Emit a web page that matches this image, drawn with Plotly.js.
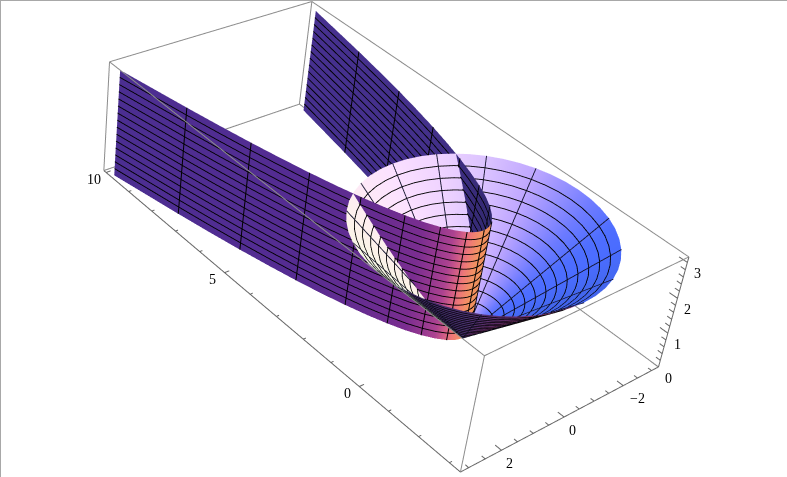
<!DOCTYPE html>
<html><head><meta charset="utf-8"><script src="https://cdn.plot.ly/plotly-3.0.1.min.js"></script>
<style>html,body{margin:0;padding:0;background:#fff;overflow:hidden}
#w{position:absolute;left:0;top:0;width:787px;height:477px;overflow:hidden;background:#fff}
#g{position:absolute;left:-122px;top:-553px;width:1000px;height:1528px}
#f{position:absolute;left:0;top:0;width:787px;height:477px;box-sizing:border-box;border-top:1px solid #a8a8a8;border-left:1px solid #a8a8a8;pointer-events:none}</style></head>
<body><div id="w"><div id="g"></div><div id="f"></div></div>
<script>
var xRange=[-3.355,10.108],yRange=[-3.253,3.253],zRange=[0,3.157];
var boxX=[-3.35,10.102],boxY=[-3.248,3.248],boxZ=[0.004,3.152];
var wallY=[3.142,2.945,2.749,2.553,2.356,2.160,1.963,1.767,1.571,1.374,1.178,0.982,0.785,0.589,0.393,0.294,0.196,0.098,0,-0.098,-0.196,-0.294,-0.393,-0.589,-0.785,-0.982,-1.178,-1.374,-1.571,-1.767,-1.963,-2.160,-2.356,-2.553,-2.749,-2.945,-3.142];
var wallX=[9.79,8.67,7.56,6.52,5.55,4.67,3.85,3.12,2.47,1.89,1.39,0.96,0.62,0.35,0.154,0.086,0.038,0.010,0,0.010,0.038,0.086,0.154,0.35,0.62,0.96,1.39,1.89,2.47,3.12,3.85,4.67,5.55,6.52,7.56,8.67,9.79];
var wallMeshY=[2.749,2.356,1.963,1.571,1.178,0.785,0.393,0,-0.393,-0.785,-1.178,-1.571,-1.963,-2.356,-2.749];
var levelsZ=[0,0.203,0.407,0.61,0.813,1.017,1.22,1.423,1.627,1.83,2.033,2.237,2.44,2.643,2.847,3.05];
var coneR=[0,0.209,0.419,0.628,0.838,1.047,1.257,1.466,1.676,1.885,2.094,2.304,2.513,2.723,2.932,3.142];
var wallKnotY=[-3.142,-2,-1,-0.36,-0.3,-0.1,0,0.15,0.3,0.45,0.6,1,1.5,2,3.142];
var wallKnotC=['#46308f','#43308a','#352a74','#2e2a6e','#f09058','#f09060','#f49560','#f08a6a','#ee7878','#d05c88','#ac4290','#7a2d90','#642c90','#552c92','#4b2e91'];
var coneDeg=[-180,-172.5,-165,-157.5,-150,-142.5,-135,-127.5,-120,-112.5,-105,-97.5,-90,-82.5,-75,-67.5,-60,-52.5,-45,-37.5,-30,-22.5,-15,-7.5,0,7.5,15,22.5,30,37.5,45,52.5,60,67.5,75,82.5,90,97.5,105,112.5,120,127.5,135,142.5,150,157.5,165,172.5,180];
var coneMeshDeg=[-157.5,-135,-112.5,-67.5,-45,-22.5,0,22.5,45,67.5,90,112.5,135,157.5,180];
var coneKnotDeg=[-180,-157,-135,-120,-100,-80,-67,-45,-22,0,20,45,60,75,90,97,105,130,150,165,175,180];
var coneKnotC=['#4060e8','#4468f0','#4a6cff','#4e6eff','#6f7cff','#a096ff','#c0a8ff','#dcc4ff','#f0d4ff','#fbe0ff','#fde8f8','#fdf0ec','#fbf4e8','#f4f6e4','#e4f4e0','#c8e8d8','#3a2860','#4a3070','#6a3070','#a04070','#a04070','#4060e8'];
var xMinor=[-3,-2,-1,0,1,2,3,4,5,6,7,8,9,10];
var xMajor=[0,5,10];
var yMinor=[-3,-2.5,-2,-1.5,-1,-0.5,0,0.5,1,1.5,2,2.5,3];
var yMajor=[-2,0,2];
var zMinor=[0,0.2,0.4,0.6,0.8,1,1.2,1.4,1.6,1.8,2,2.2,2.4,2.6,2.8,3];
var zMajor=[0,1,2,3];
var xLabels=['0','5','10'];
var yLabels=['\u22122','0','2'];
var zLabels=['0','1','2','3'];
function scale(kn,cs){var a=kn[0],b=kn[kn.length-1];return kn.map(function(k,i){return [(k-a)/(b-a),cs[i]];});}
var flat={ambient:1,diffuse:0,specular:0,roughness:1,fresnel:0};
var wx=[],wy=[],wz=[],ws=[];
levelsZ.forEach(function(z){wx.push(wallX.slice());wy.push(wallY.slice());wz.push(wallY.map(function(){return z;}));ws.push(wallY.slice());});
var cx=[],cy=[],cz=[],cs=[];
function cosd(d){return Math.cos(d*Math.PI/180);} function sind(d){return Math.sin(d*Math.PI/180);}
coneR.forEach(function(r,k){
 cx.push(coneDeg.map(function(d){return r*cosd(d);}));
 cy.push(coneDeg.map(function(d){return r*sind(d);}));
 cz.push(coneDeg.map(function(){return levelsZ[k];}));
 cs.push(coneDeg.slice());
});
var rimR=coneR[coneR.length-1],rimZ=levelsZ[levelsZ.length-1];
// small shift toward the camera so the mesh lines stay above their own surface
var lift=[-0.02,0.02,0.02];
function lineTrace(p,c,w){return {type:'scatter3d',mode:'lines',x:p.x,y:p.y,z:p.z,line:{color:c,width:w},hoverinfo:'skip',showlegend:false};}
function lifted(X,Y,Z,c,w){return lineTrace({x:X.map(function(v){return v+lift[0];}),y:Y.map(function(v){return v+lift[1];}),z:Z.map(function(v){return v+lift[2];})},c,w);}
var traces=[
 {type:'surface',x:wx,y:wy,z:wz,surfacecolor:ws,cmin:-3.142,cmax:3.142,colorscale:scale(wallKnotY,wallKnotC),showscale:false,lighting:flat,hoverinfo:'skip'},
 {type:'surface',x:cx,y:cy,z:cz,surfacecolor:cs,cmin:-180,cmax:180,colorscale:scale(coneKnotDeg,coneKnotC),showscale:false,lighting:flat,hoverinfo:'skip'}
];
levelsZ.forEach(function(z,k){ if(k==0||k==levelsZ.length-1)return;
 traces.push(lifted(wallX,wallY,wallY.map(function(){return z;}),'#000',1.8));
 traces.push(lifted(cx[k],cy[k],cz[k],'#000',1.8));
});
wallMeshY.forEach(function(y){var i=wallY.indexOf(y);traces.push(lifted([wallX[i],wallX[i]],[y,y],[0,rimZ],'#000',2));});
coneMeshDeg.forEach(function(d){traces.push(lifted([0,rimR*cosd(d)],[0,rimR*sind(d)],[0,rimZ],'#14142e',1.8));});
var xlo=boxX[0],xhi=boxX[1],ylo=boxY[0],yhi=boxY[1],zlo=boxZ[0],zhi=boxZ[1];
function seg(e){return {x:[e[0],e[3]],y:[e[1],e[4]],z:[e[2],e[5]]};}
var boxEdges=[[xlo,yhi,zhi,xhi,yhi,zhi],[xlo,ylo,zhi,xhi,ylo,zhi],[xlo,ylo,zhi,xlo,yhi,zhi],[xhi,yhi,zhi,xhi,ylo,zhi],[xhi,yhi,zlo,xhi,ylo,zlo],[xlo,yhi,zlo,xlo,yhi,zhi],[xhi,yhi,zlo,xhi,yhi,zhi],[xhi,ylo,zlo,xhi,ylo,zhi],[xhi,ylo,zlo,xlo,ylo,zlo]];
boxEdges.forEach(function(e){traces.push(lineTrace(seg(e),'#8c8c8c',2));});
[[xlo,yhi,zlo,xhi,yhi,zlo],[xlo,yhi,zlo,xlo,ylo,zlo],[xlo,ylo,zlo,xlo,ylo,zhi]].forEach(function(e){traces.push(lineTrace(seg(e),'#666666',2));});
xMinor.forEach(function(v){var l=xMajor.indexOf(v)>=0?0.14:0.08;traces.push(lineTrace(seg([v,yhi,zlo,v,yhi-l,zlo]),'#666666',2));});
yMinor.forEach(function(v){var l=yMajor.indexOf(v)>=0?0.2:0.11;traces.push(lineTrace(seg([xlo,v,zlo,xlo+l,v,zlo]),'#666666',2));});
zMinor.forEach(function(v){var l=zMajor.indexOf(v)>=0?0.25:0.14;traces.push(lineTrace(seg([xlo,ylo,v,xlo+l,ylo,v]),'#666666',2));});
var ann=[];
function lab(x,y,z,t,dx,dy){ann.push({x:x,y:y,z:z,text:t,showarrow:false,xshift:dx,yshift:dy,font:{family:'Liberation Serif',size:14,color:'#000'}});}
xMajor.forEach(function(v,i){lab(v,yhi,zlo,xLabels[i],-12,-7);});
yMajor.forEach(function(v,i){lab(xlo,v,zlo,yLabels[i],v<0?14:8,-13);});
zMajor.forEach(function(v,i){lab(xlo,ylo,v,zLabels[i],10,-11);});
var hide={visible:false,autorange:false};
var layout={width:1000,height:1528,margin:{l:0,r:0,t:0,b:0,pad:0},paper_bgcolor:'#fff',showlegend:false,
 scene:{aspectmode:'manual',aspectratio:{x:2.0727,y:1.0059,z:0.5},domain:{x:[0,1],y:[0,1]},annotations:ann,
  camera:{eye:{x:-3.9156,y:4.1062,z:3.8615},center:{x:0,y:0,z:0},up:{x:0.0994,y:0.0832,z:1},projection:{type:'perspective'}},
  xaxis:Object.assign({range:xRange},hide),yaxis:Object.assign({range:yRange},hide),zaxis:Object.assign({range:zRange},hide)}};
Plotly.newPlot('g',traces,layout,{displayModeBar:false});
</script></body></html>
